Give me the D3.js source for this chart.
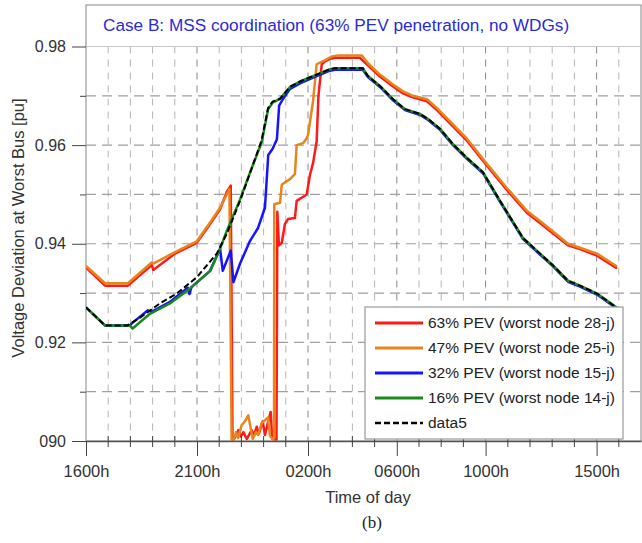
<!doctype html>
<html>
<head>
  <meta charset="utf-8">
  <title>Voltage Deviation at Worst Bus</title>
  <style>
  body { margin: 0; background: #fff; }
  svg { display: block; font-family: "Liberation Sans", Arial, sans-serif; }
  </style>
</head>
<body>
  <div id="vis"></div>
  <script src="https://d3js.org/d3.v7.min.js"></script>
  <script>
  // x values are hours since 1600h
  var titleText = 'Case B: MSS coordination (63% PEV penetration, no WDGs)';
  var xTickHours = [0, 5, 10, 14, 18, 23];
  var xTickLabels = ['1600h', '2100h', '0200h', '0600h', '1000h', '1500h'];
  var yTickValues = [0.90, 0.92, 0.94, 0.96, 0.98];
  var yTickLabels = ['090', '0.92', '0.94', '0.96', '0.98'];
  var seriesNames = ['63% PEV (worst node 28-j)', '47% PEV (worst node 25-i)',
    '32% PEV (worst node 15-j)', '16% PEV (worst node 14-j)', 'data5'];

  var pev63 = [
    [0, 0.9352], [0.86, 0.9315], [1.89, 0.9315], [2.96, 0.9357], [3.03, 0.9347],
    [4.01, 0.9380], [4.99, 0.9402], [5.59, 0.9440], [6.04, 0.9470], [6.34, 0.9505],
    [6.52, 0.9518], [6.60, 0.9003], [6.67, 0.9004], [6.76, 0.9012], [6.86, 0.9022],
    [6.97, 0.9009], [7.09, 0.9018], [7.24, 0.9004], [7.46, 0.9022], [7.57, 0.9012],
    [7.69, 0.9029], [7.79, 0.9015], [7.96, 0.9040], [8.06, 0.9012], [8.26, 0.9049],
    [8.32, 0.9059], [8.39, 0.9004], [8.58, 0.9003], [8.62, 0.9465], [8.69, 0.9397],
    [8.82, 0.9402], [8.96, 0.9440], [9.10, 0.9450], [9.41, 0.9452], [9.49, 0.9487],
    [9.94, 0.9500], [10.09, 0.9540], [10.23, 0.9564], [10.39, 0.9608], [10.47, 0.9700],
    [10.62, 0.9764], [10.77, 0.9770], [10.99, 0.9775], [11.22, 0.9777], [12.34, 0.9777],
    [12.70, 0.9762], [13.24, 0.9739], [13.83, 0.9719], [14.28, 0.9705], [14.73, 0.9697],
    [15.36, 0.9689], [15.81, 0.9671], [16.53, 0.9638], [17.16, 0.9609], [18.06, 0.9558],
    [18.96, 0.9509], [19.86, 0.9463], [20.45, 0.9442], [20.90, 0.9426], [21.71, 0.9397],
    [22.25, 0.9389], [23.02, 0.9376], [23.92, 0.9350]
  ];
  var pev47 = [
    [0, 0.9355], [0.86, 0.9320], [1.89, 0.9320], [2.96, 0.9362], [3.05, 0.9360],
    [4.01, 0.9383], [4.99, 0.9405], [5.59, 0.9443], [6.04, 0.9473], [6.34, 0.9500],
    [6.46, 0.9511], [6.56, 0.9003], [6.67, 0.9005], [6.76, 0.9018], [6.85, 0.9006],
    [7.01, 0.9032], [7.16, 0.9040], [7.31, 0.9052], [7.51, 0.9004], [7.66, 0.9018],
    [7.75, 0.9012], [7.91, 0.9036], [8.06, 0.9042], [8.20, 0.9048], [8.29, 0.9010],
    [8.40, 0.9004], [8.47, 0.9005], [8.48, 0.9480], [8.74, 0.9483], [8.82, 0.9520],
    [9.19, 0.9531], [9.41, 0.9541], [9.49, 0.9600], [9.78, 0.9604], [9.94, 0.9614],
    [10.00, 0.9620], [10.23, 0.9690], [10.39, 0.9764], [10.75, 0.9772], [11.08, 0.9780],
    [11.38, 0.9782], [12.42, 0.9782], [12.70, 0.9766], [13.24, 0.9743], [13.83, 0.9723],
    [14.28, 0.9709], [14.73, 0.9700], [15.36, 0.9693], [15.81, 0.9675], [16.53, 0.9642],
    [17.16, 0.9613], [18.06, 0.9562], [18.96, 0.9513], [19.86, 0.9467], [20.45, 0.9446],
    [20.90, 0.9430], [21.71, 0.9400], [22.25, 0.9392], [23.02, 0.9380], [23.92, 0.9354]
  ];
  var pev32 = [
    [0, 0.9271], [0.86, 0.9234], [1.98, 0.9234], [2.05, 0.9238], [2.79, 0.9265],
    [2.95, 0.9262], [3.78, 0.9282], [4.58, 0.9311], [4.66, 0.9298], [4.75, 0.9312],
    [5.59, 0.9345], [6.04, 0.9390], [6.16, 0.9345], [6.52, 0.9386], [6.64, 0.9322],
    [6.94, 0.9360], [7.39, 0.9406], [7.75, 0.9432], [8.06, 0.9473], [8.21, 0.9580],
    [8.40, 0.9592], [8.60, 0.9612], [8.70, 0.9680], [8.85, 0.9692], [9.19, 0.9714],
    [9.64, 0.9725], [10.23, 0.9737], [10.99, 0.9751], [11.22, 0.9753], [12.47, 0.9753],
    [12.70, 0.9738], [13.24, 0.9718], [13.83, 0.9691], [14.37, 0.9671], [15.05, 0.9661],
    [15.41, 0.9651], [15.95, 0.9631], [16.53, 0.9600], [17.16, 0.9572], [17.88, 0.9543],
    [18.65, 0.9485], [19.68, 0.9410], [20.45, 0.9378], [21.04, 0.9354], [21.71, 0.9323],
    [22.25, 0.9313], [23.02, 0.9297], [23.92, 0.9268]
  ];
  var pev16 = [
    [0, 0.9271], [0.86, 0.9234], [1.98, 0.9234], [2.10, 0.9228], [2.88, 0.9258],
    [3.78, 0.9279], [4.68, 0.9309], [5.59, 0.9345], [6.04, 0.9390], [6.34, 0.9426],
    [6.94, 0.9490], [7.47, 0.9554], [7.91, 0.9605], [8.20, 0.9672], [8.40, 0.9686],
    [8.74, 0.9694], [9.19, 0.9718], [9.64, 0.9729], [10.23, 0.9740], [10.99, 0.9754],
    [11.22, 0.9756], [12.47, 0.9756], [12.70, 0.9740], [13.24, 0.9720], [13.83, 0.9693],
    [14.37, 0.9673], [15.05, 0.9663], [15.41, 0.9653], [15.95, 0.9633], [16.53, 0.9602],
    [17.16, 0.9574], [17.88, 0.9545], [18.65, 0.9487], [19.68, 0.9412], [20.45, 0.9380],
    [21.04, 0.9356], [21.71, 0.9325], [22.25, 0.9315], [23.02, 0.9299], [23.92, 0.9270]
  ];
  var data5 = [
    [0, 0.9271], [0.86, 0.9234], [1.85, 0.9234], [2.43, 0.9250], [3.33, 0.9279],
    [4.09, 0.9299], [4.99, 0.9332], [5.89, 0.9380], [6.34, 0.9420], [6.94, 0.9487],
    [7.52, 0.9560], [7.91, 0.9610], [8.20, 0.9675], [8.40, 0.9688], [8.74, 0.9694],
    [9.19, 0.9718], [9.64, 0.9729], [10.23, 0.9740], [10.99, 0.9754], [11.22, 0.9756],
    [12.47, 0.9756], [12.70, 0.9740], [13.24, 0.9720], [13.83, 0.9693], [14.37, 0.9673],
    [15.05, 0.9663], [15.41, 0.9653], [15.95, 0.9633], [16.53, 0.9602], [17.16, 0.9574],
    [17.88, 0.9545], [18.65, 0.9487], [19.68, 0.9412], [20.45, 0.9380], [21.04, 0.9356],
    [21.71, 0.9325], [22.25, 0.9315], [23.02, 0.9299], [23.92, 0.9270]
  ];

  var width = 642, height = 543;
  var plotLeft = 86, plotRight = 641, plotTop = 5, plotBottom = 441;

  var x = d3.scaleLinear().domain([0, 25]).range([plotLeft, plotRight]);
  var y = d3.scaleLinear().domain([0.90, 0.98]).range([plotBottom, 46.5]);

  var svg = d3.select('#vis').append('svg')
    .attr('width', width)
    .attr('height', height);

  svg.append('rect')
    .attr('x', plotLeft).attr('y', plotTop)
    .attr('width', plotRight - plotLeft).attr('height', plotBottom - plotTop)
    .attr('fill', '#fff').attr('stroke', '#9a9a9a').attr('stroke-width', 1.2);

  // grid
  var hours = d3.range(1, 25);
  svg.append('g').selectAll('line').data(hours)
    .enter().append('line')
      .attr('x1', function(d){ return x(d); })
      .attr('x2', function(d){ return x(d); })
      .attr('y1', y(0.98)).attr('y2', plotBottom)
      .attr('stroke', function(d){ return xTickHours.indexOf(d) > -1 ? '#8a8a8a' : '#b4b4b4'; })
      .attr('stroke-width', 1)
      .attr('stroke-dasharray', '7,6');

  var yGrid = [0.91, 0.92, 0.93, 0.94, 0.95, 0.96, 0.97];
  svg.append('g').selectAll('line').data(yGrid)
    .enter().append('line')
      .attr('x1', plotLeft).attr('x2', plotRight)
      .attr('y1', function(d){ return y(d); })
      .attr('y2', function(d){ return y(d); })
      .attr('stroke', '#a0a0a0')
      .attr('stroke-width', 1.2)
      .attr('stroke-dasharray', '10,6');
  svg.append('line')
    .attr('x1', plotLeft).attr('x2', plotRight)
    .attr('y1', y(0.98)).attr('y2', y(0.98))
    .attr('stroke', '#c8c8c8').attr('stroke-width', 1.2);

  svg.append('text')
    .attr('x', 103).attr('y', 31)
    .attr('font-size', '17.2px')
    .attr('fill', '#2a2ad8')
    .text(titleText);

  // lines
  svg.append('clipPath').attr('id', 'clip')
    .append('rect').attr('x', plotLeft).attr('y', plotTop)
    .attr('width', plotRight - plotLeft).attr('height', plotBottom - plotTop);

  var line = d3.line()
    .x(function(d){ return x(d[0]); })
    .y(function(d){ return y(d[1]); });

  var series = [
    { values: pev63, color: '#ff1a1a', width: 2.5, dash: null },
    { values: pev47, color: '#e8841c', width: 2.5, dash: null },
    { values: pev32, color: '#1414ff', width: 2.5, dash: null },
    { values: pev16, color: '#1a8a1a', width: 2.5, dash: null },
    { values: data5, color: '#000000', width: 2, dash: '6,3' }
  ];

  var plot = svg.append('g').attr('clip-path', 'url(#clip)');
  series.forEach(function(s){
    plot.append('path')
      .attr('d', line(s.values))
      .attr('fill', 'none')
      .attr('stroke', s.color)
      .attr('stroke-width', s.width)
      .attr('stroke-linejoin', 'round')
      .attr('stroke-dasharray', s.dash);
  });

  // axes
  var yAxis = d3.axisLeft(y)
    .tickValues(yTickValues)
    .tickFormat(function(d, i){ return yTickLabels[i]; })
    .tickSize(14).tickPadding(6);
  var gy = svg.append('g').attr('transform', 'translate(' + plotLeft + ',0)').call(yAxis);
  gy.selectAll('text').attr('font-size', '16px').attr('fill', '#333')
    .attr('font-family', '"Liberation Sans", Arial, sans-serif');
  gy.select('.domain').remove();
  gy.selectAll('.tick line').attr('stroke', '#444');

  var yMinor = d3.axisLeft(y).tickValues([0.91, 0.93, 0.95, 0.97])
    .tickFormat('').tickSizeInner(6).tickSizeOuter(0);
  var gym = svg.append('g').attr('transform', 'translate(' + plotLeft + ',0)').call(yMinor);
  gym.select('.domain').remove();
  gym.selectAll('.tick line').attr('stroke', '#444');

  var xAxis = d3.axisBottom(x)
    .tickValues(xTickHours)
    .tickFormat(function(d, i){ return xTickLabels[i]; })
    .tickSizeInner(15).tickSizeOuter(0).tickPadding(9);
  var gx = svg.append('g').attr('transform', 'translate(0,' + plotBottom + ')').call(xAxis);
  gx.selectAll('text').attr('font-size', '16.5px').attr('fill', '#333')
    .attr('font-family', '"Liberation Sans", Arial, sans-serif');
  gx.select('.domain').attr('stroke', '#555').attr('stroke-width', 1.3);
  gx.selectAll('.tick line').attr('stroke', '#444');

  var minorHours = d3.range(1, 25).filter(function(h){ return xTickHours.indexOf(h) < 0; });
  svg.append('g').selectAll('line').data(minorHours)
    .enter().append('line')
      .attr('x1', function(d){ return x(d); })
      .attr('x2', function(d){ return x(d); })
      .attr('y1', plotBottom - 5).attr('y2', plotBottom + 6)
      .attr('stroke', '#444');

  // axis titles
  svg.append('text')
    .attr('transform', 'translate(24,228) rotate(-90)')
    .attr('text-anchor', 'middle')
    .attr('font-size', '16.5px').attr('fill', '#333')
    .text('Voltage Deviation at Worst Bus [pu]');
  svg.append('text')
    .attr('x', 368).attr('y', 503)
    .attr('text-anchor', 'middle')
    .attr('font-size', '16.5px').attr('fill', '#333')
    .text('Time of day');
  svg.append('text')
    .attr('x', 372).attr('y', 528)
    .attr('text-anchor', 'middle')
    .attr('font-family', '"Liberation Serif", "Times New Roman", serif')
    .attr('font-size', '17px').attr('fill', '#222')
    .text('(b)');

  // legend
  var legend = svg.append('g').attr('transform', 'translate(365,307)');
  legend.append('rect')
    .attr('width', 258).attr('height', 132)
    .attr('fill', '#fff').attr('stroke', '#999').attr('stroke-width', 1.2);
  var rows = legend.selectAll('g.row').data(series)
    .enter().append('g').attr('class', 'row')
      .attr('transform', function(d, i){ return 'translate(0,' + (16 + i * 25) + ')'; });
  rows.append('line')
    .attr('x1', 10).attr('x2', 58)
    .attr('stroke', function(d){ return d.color; })
    .attr('stroke-width', function(d){ return d.width + 0.5; })
    .attr('stroke-dasharray', function(d){ return d.dash; });
  rows.append('text')
    .attr('x', 63).attr('dy', '0.35em')
    .attr('font-size', '15.5px').attr('fill', '#222')
    .text(function(d, i){ return seriesNames[i]; });
  </script>
</body>
</html>
